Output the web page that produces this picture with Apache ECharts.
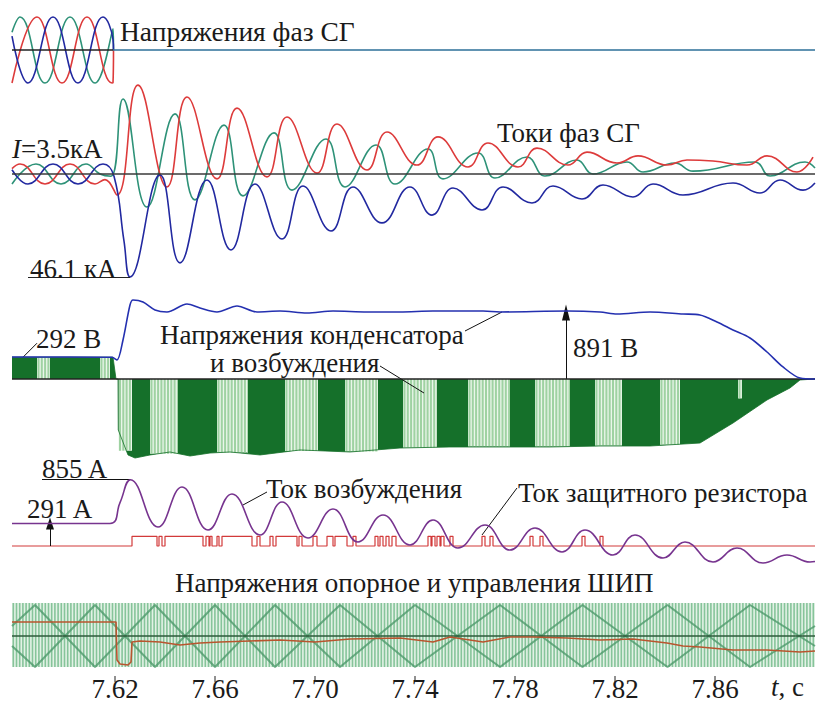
<!DOCTYPE html>
<html><head><meta charset="utf-8">
<script src="https://cdn.jsdelivr.net/npm/echarts@6/dist/echarts.min.js"></script>
<style>html,body{margin:0;padding:0;background:#fff}#c{width:816px;height:702px}</style>
</head><body><div id="c"></div>
<script>
// ---------- DATA ----------
const T0 = 7.5788, T1 = 7.9;
const tickValues = [7.62, 7.66, 7.70, 7.74, 7.78, 7.82, 7.86];

// Panel 1: phase voltages of SG (p.u.)
const uGreen = [[7.5788,0.54],[7.582,1],[7.592,-1],[7.602,1],[7.612,-1],[7.6192,0.64],[7.6194,0]];
const uRed   = [[7.5788,-1],[7.5888,1],[7.5988,-1],[7.6088,1],[7.6188,-1],[7.6192,-0.99],[7.6194,0]];
const uBlue  = [[7.5788,0.42],[7.5852,-1],[7.5952,1],[7.6052,-1],[7.6152,1],[7.6192,0.31],[7.6194,0]];
const uAfter = [[7.6192,0],[7.9,0]];

// Panel 2: phase currents of SG (kA)
const iBlue = [[7.5788,1.9],[7.5852,-4.5],[7.5952,4.5],[7.6052,-4.5],[7.6152,4.5],[7.6196,-1],[7.6236,-30],[7.626,-46.1],[7.638,-0.4],[7.646,-39.8],
 [7.6568,-2.7],[7.6664,-34],[7.676,-4.5],[7.6868,-29.1],[7.6952,-5.4],[7.7064,-25.5],[7.7152,-5.8],[7.7268,-21.9],[7.738,-5.8],
 [7.7468,-18.4],[7.7552,-6.3],[7.7668,-16.1],[7.7752,-5.8],[7.7868,-13],[7.7952,-5.4],[7.8068,-11.2],[7.8152,-4.9],[7.8272,-10.3],
 [7.8352,-4.5],[7.8472,-9.4],[7.8672,-4],[7.878,-8.5],[7.886,-2.7],[7.8952,-7.2],[7.9,-4]];
const iRed = [[7.5788,2.4],[7.582,4.5],[7.592,-4.5],[7.602,4.5],[7.612,-4.5],[7.616,-2.5],[7.6208,-9.4],[7.6292,39.8],[7.6408,-5.8],
 [7.6488,34.5],[7.6608,-2.2],[7.6688,29.5],[7.6808,-1.3],[7.6888,25.5],[7.7008,0.4],[7.7088,22.4],[7.7208,1.8],[7.7288,18.8],
 [7.7408,4],[7.7492,16.6],[7.7612,3.1],[7.7692,13.9],[7.7812,3.1],[7.7888,11.6],[7.8012,4],[7.8088,9.8],[7.8208,4.9],[7.8292,8.1],
 [7.8408,4],[7.8488,6.3],[7.8592,5.8],[7.8728,4],[7.8808,8.1],[7.8928,0.9],[7.8992,7.6]];
const iGreen = [[7.5788,-4.5],[7.5884,4.5],[7.5984,-4.5],[7.6084,4.5],[7.614,0],[7.6184,-1],[7.6232,33.6],[7.6328,-14.8],[7.644,26.9],
 [7.652,-11.6],[7.6636,21.9],[7.6712,-9.8],[7.6836,18.4],[7.6908,-7.2],[7.7044,15.7],[7.712,-5.8],[7.7244,13],[7.732,-4.5],
 [7.7452,11.2],[7.7512,-2.2],[7.7652,9.4],[7.772,-1.8],[7.7848,7.6],[7.792,-0.9],[7.8048,6.3],[7.8112,0],[7.8248,5.4],[7.8312,0.9],
 [7.844,4.9],[7.8512,1.3],[7.876,5.4],[7.882,-0.9],[7.896,5.4],[7.9,2.7]];

// Panel 3: capacitor voltage (V) and excitation voltage envelope (V)
const capVoltage = [[7.5788,295],[7.6188,292],[7.6208,255],[7.6232,523],[7.626,992],[7.6272,1059],[7.6312,1032],[7.636,925],[7.6408,898],
 [7.6488,1005],[7.654,951],[7.6608,898],[7.6688,978],[7.6768,898],[7.686,911],[7.6968,884],[7.7072,911],[7.7208,898],[7.734,898],
 [7.7472,911],[7.7672,911],[7.774,898],[7.8008,911],[7.814,898],[7.8208,871],[7.834,898],[7.8472,871],[7.854,858],[7.8608,764],
 [7.8672,657],[7.874,549],[7.8808,362],[7.8872,161],[7.894,13],[7.9,0]];
const excVoltage = [[7.5788,292],[7.6192,292],[7.6204,0],[7.6212,0],[7.6213,-683],[7.6252,-1018],[7.628,-1059],[7.634,-1018],[7.642,-978],
 [7.65,-1032],[7.658,-992],[7.666,-978],[7.678,-1018],[7.694,-951],[7.714,-978],[7.734,-925],[7.754,-911],[7.774,-911],[7.794,-911],
 [7.814,-898],[7.834,-898],[7.854,-858],[7.8672,-590],[7.8808,-281],[7.89,-120],[7.894,-13],[7.9,0]];
// PWM switching intervals [t start, t end, top V, bottom V]
const pwmBlocks = [[7.5888,7.594,292,0],[7.614,7.618,292,0],
 [7.6214,7.6268,0,-960],[7.634,7.6452,0,-1000],[7.6608,7.6732,0,-985],[7.688,7.7012,0,-965],[7.712,7.7252,0,-970],
 [7.7352,7.7488,0,-920],[7.7612,7.778,0,-905],[7.788,7.802,0,-905],[7.812,7.8228,0,-895],[7.838,7.846,0,-880],[7.8692,7.8708,0,-260]];

// Panel 4: excitation current (A) and protective resistor current pulses
const excCurrent = [[7.5788,291],[7.618,291],[7.622,560],[7.6262,855],[7.6372,245],[7.6468,761],[7.6572,206],[7.6668,671],[7.678,142],
 [7.6868,568],[7.6972,103],[7.7072,477],[7.7172,52],[7.7272,400],[7.738,13],[7.7472,335],[7.7572,-26],[7.768,271],[7.778,-52],
 [7.788,232],[7.7988,-77],[7.808,206],[7.8192,-116],[7.828,142],[7.8392,-155],[7.848,52],[7.8592,-206],[7.8688,-26],[7.8792,-219],
 [7.8888,-116],[7.898,-206],[7.9,-200]];
const resistorPulses = [[7.6268,7.6368],[7.6376,7.6388],[7.64,7.6552],[7.6564,7.6576],[7.658,7.6588],[7.6608,7.6616],[7.6628,7.6748],
 [7.6768,7.678],[7.682,7.6832],[7.6844,7.6928],[7.6936,7.6948],[7.6992,7.7008],[7.7048,7.7072],[7.708,7.7128],[7.7152,7.7164],
 [7.724,7.7252],[7.726,7.7272],[7.7284,7.7296],[7.7308,7.7324],[7.7452,7.7464],[7.7468,7.748],[7.7488,7.75],[7.7504,7.7516],
 [7.754,7.7552],[7.7668,7.768],[7.77,7.7712],[7.786,7.7872],[7.79,7.7912],[7.8068,7.808],[7.814,7.8152]];
const pulseHeight = 125;

// Panel 5: PWM reference (carrier band) and control voltage
const carrierBand = [[7.5788,7.9,33,-31]];
const zigTimes = [7.5788,7.588,7.612,7.636,7.66,7.684,7.71,7.74,7.774,7.807,7.841,7.874,7.9];
const zigUp    = [10,31,-31,31,-31,31,-31,31,-31,31,-31,31,-10];
const zigDown  = [-10,-31,31,-31,31,-31,31,-31,31,-31,31,-31,10];
const controlVoltage = [[7.5788,14],[7.6204,14],[7.6208,-24],[7.622,-28],[7.6252,-29],[7.6264,-26],[7.6268,-6],[7.63,-5],[7.638,-6],
 [7.646,-9],[7.654,-7],[7.662,-6],[7.674,-5],[7.686,-4],[7.7,-6],[7.714,-3],[7.734,-2],[7.7472,-6],[7.754,-1],[7.7672,-6],[7.778,-1],
 [7.7872,-1],[7.8008,-2],[7.814,-4],[7.8272,-3],[7.8408,-7],[7.8472,-10],[7.854,-11],[7.8672,-14],[7.8808,-14],[7.894,-16],[7.9,-15]];

// ---------- CHART ----------
const FAM = 'Liberation Serif';
const FS = 27;
const C_RED = '#dd3b3b', C_GREEN = '#2e9278', C_BLUE = '#2229a0', C_PURPLE = '#77348f', C_DARKGREEN = '#15702a';
const chart = echarts.init(document.getElementById('c'), null, {renderer: 'svg'});

const grids = [
  {top: 10, height: 80, min: -1.2121, max: 1.2121},
  {top: 80, height: 210, min: -51.93, max: 42.08},
  {top: 290, height: 180, min: -1219.4, max: 1192.6},
  {top: 470, height: 100, min: -309.6, max: 980.4},
  {top: 598, height: 79, min: -41, max: 38}
];

function line(gi, data, color, extra) {
  return Object.assign({type: 'line', xAxisIndex: gi, yAxisIndex: gi, data: data, symbol: 'none', smooth: 0.45,
    lineStyle: {color: color, width: 1.6}, animation: false, silent: true}, extra || {});
}
function steps(pulses, h) {
  const d = [[T0, 0]];
  pulses.forEach(p => { d.push([p[0], 0], [p[0], h], [p[1], h], [p[1], 0]); });
  d.push([T1, 0]);
  return d;
}
function stripeRender(stripeColor, bgColor, period, w) {
  return function (params, api) {
    const a = api.coord([api.value(0), api.value(2)]);
    const b = api.coord([api.value(1), api.value(3)]);
    const x0 = a[0], x1 = b[0], y0 = Math.min(a[1], b[1]), h = Math.abs(b[1] - a[1]);
    const children = [{type: 'rect', shape: {x: x0, y: y0, width: x1 - x0, height: h}, style: {fill: bgColor}}];
    for (let x = x0 + 0.5; x < x1; x += period) {
      children.push({type: 'rect', shape: {x: x, y: y0, width: Math.min(w, x1 - x), height: h}, style: {fill: stripeColor}});
    }
    return {type: 'group', children: children};
  };
}
function tickRender(params, api) {
  const p = api.coord([api.value(0), api.value(1)]);
  return {type: 'line', shape: {x1: p[0], y1: p[1] - 1, x2: p[0], y2: p[1] + 5}, style: {stroke: '#222', lineWidth: 1}};
}
const markStyle = {silent: true, symbol: 'none', animation: false, label: {show: false}};

const series = [
  // panel 1
  line(0, uGreen, C_GREEN), line(0, uRed, C_RED), line(0, uBlue, C_BLUE),
  line(0, uAfter, '#2c6f98', {smooth: false}),
  line(0, [[T0, 0], [7.6192, 0]], '#222', {smooth: false, lineStyle: {color: '#222', width: 1.4}, z: 5}),
  // panel 2
  line(1, iGreen, C_GREEN), line(1, iRed, C_RED),
  line(1, iBlue, C_BLUE, {markLine: Object.assign({}, markStyle, {lineStyle: {color: '#222', width: 1, type: 'solid'},
    data: [[{coord: [7.5852, -46.1]}, {coord: [7.626, -46.1]}]]})}),
  line(1, [[T0, 0], [T1, 0]], '#333', {smooth: false, lineStyle: {color: '#3a3a3a', width: 1.4}, z: 5}),
  // panel 3
  line(2, excVoltage, C_DARKGREEN, {smooth: false, lineStyle: {color: C_DARKGREEN, width: 0.8}, areaStyle: {color: C_DARKGREEN, opacity: 1}}),
  {type: 'custom', xAxisIndex: 2, yAxisIndex: 2, data: pwmBlocks, renderItem: stripeRender('#9fd2a2', '#eaf6ea', 3.3, 2), animation: false, silent: true, z: 3, clip: true},
  line(2, [[T0, 0], [T1, 0]], '#222', {smooth: false, lineStyle: {color: '#222', width: 1.4}, z: 5,
    markLine: Object.assign({}, markStyle, {lineStyle: {color: '#111', width: 1, type: 'solid'},
      data: [
        [{coord: [7.8004, 0], symbol: 'none'}, {coord: [7.8004, 891], symbol: 'triangle', symbolSize: [8, 16]}],
        [{coord: [7.5832, 292]}, {coord: [7.5888, 480]}],
        [{coord: [7.76, 643]}, {coord: [7.7748, 898]}],
        [{coord: [7.726, 174]}, {coord: [7.7436, -188]}]
      ]})}),
  line(2, capVoltage, '#2430b0', {smooth: 0.3, z: 6}),
  // panel 4
  line(3, steps(resistorPulses, pulseHeight), '#d23a3a', {smooth: false, lineStyle: {color: '#d23a3a', width: 1.2}}),
  line(3, excCurrent, C_PURPLE, {z: 6, markLine: Object.assign({}, markStyle, {lineStyle: {color: '#111', width: 1, type: 'solid'},
    data: [
      [{coord: [7.5908, 855]}, {coord: [7.6262, 855]}],
      [{coord: [7.594, 0], symbol: 'none'}, {coord: [7.594, 291], symbol: 'triangle', symbolSize: [8, 12]}],
      [{coord: [7.6808, 697]}, {coord: [7.6712, 529]}],
      [{coord: [7.7808, 748]}, {coord: [7.7668, 142]}]
    ]})}),
  // panel 5
  {type: 'custom', xAxisIndex: 4, yAxisIndex: 4, data: carrierBand, renderItem: stripeRender('#86c49a', '#e3f2e6', 3.2, 1.6), animation: false, silent: true, z: 1},
  line(4, zigTimes.map((t, i) => [t, zigUp[i]]), '#4e9a6c', {smooth: false, lineStyle: {color: '#4e9a6c', width: 2, opacity: 0.8}}),
  line(4, zigTimes.map((t, i) => [t, zigDown[i]]), '#4e9a6c', {smooth: false, lineStyle: {color: '#4e9a6c', width: 2, opacity: 0.8}}),
  line(4, [[T0, 0], [T1, 0]], '#2d5a3a', {smooth: false, lineStyle: {color: '#2d5a3a', width: 1.4}}),
  line(4, controlVoltage, '#b8552f', {smooth: false, lineStyle: {color: '#b8552f', width: 1.6}, z: 6}),
  // time-axis ticks
  {type: 'custom', xAxisIndex: 4, yAxisIndex: 4, data: tickValues.map(t => [t, -41]), renderItem: tickRender, clip: false, animation: false, silent: true, z: 10}
];

function txt(text, x, baseline, size) {
  const s = size || FS;
  return {type: 'text', x: x, y: baseline - s * 0.345, silent: true, z: 100,
    style: {text: text, fill: '#1a1a1a', font: s + 'px ' + FAM, verticalAlign: 'middle'}};
}
function txtItalicFirst(first, rest, x, baseline) {
  return {type: 'text', x: x, y: baseline - FS * 0.345, silent: true, z: 100,
    style: {text: '{i|' + first + '}' + rest, fill: '#1a1a1a', font: FS + 'px ' + FAM, verticalAlign: 'middle',
      rich: {i: {font: 'italic ' + FS + 'px ' + FAM, fill: '#1a1a1a'}}}};
}
const graphics = [
  txt('Напряжения фаз СГ', 120, 41, 27.5),
  txtItalicFirst('I', '=3.5кА', 12, 158),
  txt('Токи фаз СГ', 497, 142),
  txt('46.1 кА', 30, 278),
  txt('292 В', 36, 348),
  txt('Напряжения конденсатора', 160, 344),
  txt('и возбуждения', 210, 372),
  txt('891 В', 573, 357),
  txt('855 A', 42, 478),
  txt('291 A', 27, 518),
  txt('Ток возбуждения', 266, 498),
  txt('Ток защитного резистора', 518, 502),
  txt('Напряжения опорное и управления ШИП', 175, 592),
  txtItalicFirst('t', ', c', 771, 696)
];

const option = {
  backgroundColor: '#fff',
  animation: false,
  grid: grids.map(g => ({left: 12, width: 803, top: g.top, height: g.height, containLabel: false})),
  xAxis: grids.map((g, i) => {
    const last = i === grids.length - 1;
    return {type: 'value', gridIndex: i, min: T0, max: T1, show: last,
      axisLine: {show: false}, splitLine: {show: false}, axisTick: {show: false},
      axisLabel: {show: last, customValues: tickValues, margin: -2, formatter: v => v.toFixed(2),
        fontFamily: FAM, fontSize: FS, color: '#1a1a1a'}};
  }),
  yAxis: grids.map((g, i) => ({type: 'value', gridIndex: i, min: g.min, max: g.max, show: false, splitLine: {show: false}})),
  series: series,
  graphic: graphics
};
chart.setOption(option);
</script></body></html>
